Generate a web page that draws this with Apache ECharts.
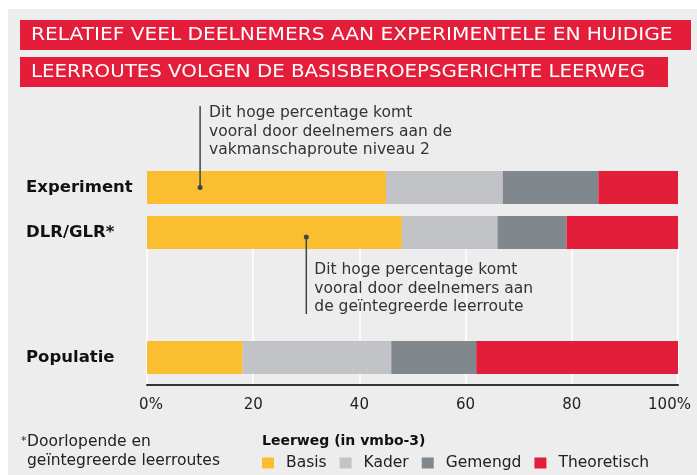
<!DOCTYPE html>
<html><head><meta charset="utf-8">
<script src="https://cdn.jsdelivr.net/npm/echarts@6/dist/echarts.min.js"></script>
<style>html,body{margin:0;padding:0;background:#fff}#c{width:697px;height:475px}</style>
</head><body><div id="c"></div>
<script>
const categories = ['Experiment', 'DLR/GLR*', 'Populatie'];
const seriesNames = ['Basis', 'Kader', 'Gemengd', 'Theoretisch'];
const basis = [45, 48, 18];
const kader = [22, 18, 28];
const gemengd = [18, 13, 16];
const theoretisch = [15, 21, 38];
const tickLabels = ['0%', '20', '40', '60', '80', '100%'];
const titleLines = ['RELATIEF VEEL DEELNEMERS AAN EXPERIMENTELE EN HUIDIGE', 'LEERROUTES VOLGEN DE BASISBEROEPSGERICHTE LEERWEG'];
const note1 = ['Dit hoge percentage komt', 'vooral door deelnemers aan de', 'vakmanschaproute niveau 2'];
const note2 = ['Dit hoge percentage komt', 'vooral door deelnemers aan', 'de geïntegreerde leerroute'];
const footnote = ['Doorlopende en', 'geïntegreerde leerroutes'];
const legendTitle = 'Leerweg (in vmbo-3)';

const colors = ['#fbbe30', '#c2c3c6', '#80878d', '#e31e3a'];
const values = [basis, kader, gemengd, theoretisch];
const FONT = 'DejaVu Sans';

const chart = echarts.init(document.getElementById('c'), null, {renderer: 'canvas'});

const series = [];
values.forEach((v, i) => {
  series.push({name: seriesNames[i], type: 'bar', stack: 'top', xAxisIndex: 0, yAxisIndex: 0,
    barWidth: 33, data: v.slice(0, 2), itemStyle: {color: colors[i]}, silent: true});
  series.push({name: seriesNames[i], type: 'bar', stack: 'bottom', xAxisIndex: 1, yAxisIndex: 1,
    barWidth: 33, data: v.slice(2), itemStyle: {color: colors[i]}, silent: true});
});

const catLabel = {show: true, align: 'left', margin: 121, color: '#111', fontFamily: FONT, fontWeight: 'bold', fontSize: 16.5};

const option = {
  animation: false,
  backgroundColor: '#ffffff',
  grid: [
    {left: 147, right: 19, top: 165, height: 90},
    {left: 147, right: 19, top: 330, height: 55},
    {left: 147, right: 19, top: 249, height: 136}
  ],
  xAxis: [
    {gridIndex: 0, type: 'value', min: 0, max: 100, show: false},
    {gridIndex: 1, type: 'value', min: 0, max: 100, interval: 20,
      axisLine: {show: true, lineStyle: {color: '#333', width: 2}},
      axisTick: {show: false}, splitLine: {show: false},
      axisLabel: {show: true, margin: 13, color: '#222', fontFamily: FONT, fontSize: 15,
        formatter: (val) => {
          const idx = Math.round(val / 20);
          if (idx === 0) return '{a|' + tickLabels[idx] + '}';
          if (idx === 5) return '{b|' + tickLabels[idx] + '}';
          return tickLabels[idx];
        },
        rich: {
          a: {fontFamily: FONT, fontSize: 15, color: '#222', padding: [0, 0, 0, 8]},
          b: {fontFamily: FONT, fontSize: 15, color: '#222', padding: [0, 17, 0, 0]}
        }
      }
    },
    {gridIndex: 2, type: 'value', min: 0, max: 100, interval: 20,
      axisLine: {show: false}, axisTick: {show: false}, axisLabel: {show: false},
      splitLine: {show: true, showMinLine: true, showMaxLine: true, lineStyle: {color: '#ffffff', width: 1.5}}}
  ],
  yAxis: [
    {gridIndex: 0, type: 'category', inverse: true, data: categories.slice(0, 2),
      axisLine: {show: false}, axisTick: {show: false}, axisLabel: catLabel},
    {gridIndex: 1, type: 'category', inverse: true, data: categories.slice(2),
      axisLine: {show: false}, axisTick: {show: false}, axisLabel: catLabel},
    {gridIndex: 2, type: 'value', show: false}
  ],
  legend: {
    left: 262, top: 455, padding: 0, itemWidth: 12, itemHeight: 11, itemGap: 13, icon: 'rect',
    selectedMode: false, data: seriesNames,
    textStyle: {fontFamily: FONT, fontSize: 15.5, color: '#222', padding: [0, 0, 0, 7]}
  },
  series: series
};
chart.setOption(option);

// annotations anchored on the data coordinates
const p1 = chart.convertToPixel({xAxisIndex: 0, yAxisIndex: 0}, [10, categories[0]]);
const p2 = chart.convertToPixel({xAxisIndex: 0, yAxisIndex: 0}, [30, categories[1]]);
const ink = '#3a474d';
const txt = '#333';
const graphics = [
  {type: 'rect', z: -10, silent: true, shape: {x: 8, y: 9, width: 697, height: 475}, style: {fill: '#ededed'}},
  {type: 'rect', shape: {x: 20, y: 20, width: 671, height: 30}, style: {fill: '#e31d3a'}},
  {type: 'rect', shape: {x: 20, y: 57, width: 648, height: 30}, style: {fill: '#e31d3a'}},
  {type: 'text', x: 31, y: 35, scaleX: 1.12, style: {text: titleLines[0], fill: '#fff', font: '18px "DejaVu Sans"', verticalAlign: 'middle'}},
  {type: 'text', x: 31, y: 72, scaleX: 1.1, style: {text: titleLines[1], fill: '#fff', font: '18px "DejaVu Sans"', verticalAlign: 'middle'}},
  // note 1
  {type: 'line', shape: {x1: p1[0], y1: 106, x2: p1[0], y2: p1[1]}, style: {stroke: ink, lineWidth: 1.5}, z: 10},
  {type: 'circle', shape: {cx: p1[0], cy: p1[1], r: 2.5}, style: {fill: ink}, z: 10},
  {type: 'text', x: p1[0] + 9, y: 104, style: {text: note1.join('\n'), fill: txt, fontFamily: FONT, fontSize: 15.5, lineHeight: 18.5, verticalAlign: 'top'}},
  // note 2
  {type: 'line', shape: {x1: p2[0], y1: p2[1] + 4.5, x2: p2[0], y2: 314}, style: {stroke: ink, lineWidth: 1.5}, z: 10},
  {type: 'circle', shape: {cx: p2[0], cy: p2[1] + 4.5, r: 2.5}, style: {fill: ink}, z: 10},
  {type: 'text', x: p2[0] + 8, y: 261, style: {text: note2.join('\n'), fill: txt, fontFamily: FONT, fontSize: 15.5, lineHeight: 18.5, verticalAlign: 'top'}},
  // footnote
  {type: 'text', x: 21, y: 436, style: {text: '*', fill: '#222', fontFamily: FONT, fontSize: 11, verticalAlign: 'top'}},
  {type: 'text', x: 27, y: 433, style: {text: footnote.join('\n'), fill: '#222', fontFamily: FONT, fontSize: 15.5, lineHeight: 18.5, verticalAlign: 'top'}},
  // legend title
  {type: 'text', x: 262, y: 434, style: {text: legendTitle, fill: '#111', fontFamily: FONT, fontWeight: 'bold', fontSize: 14, verticalAlign: 'top'}}
];
chart.setOption({graphic: {elements: graphics}});
</script></body></html>
